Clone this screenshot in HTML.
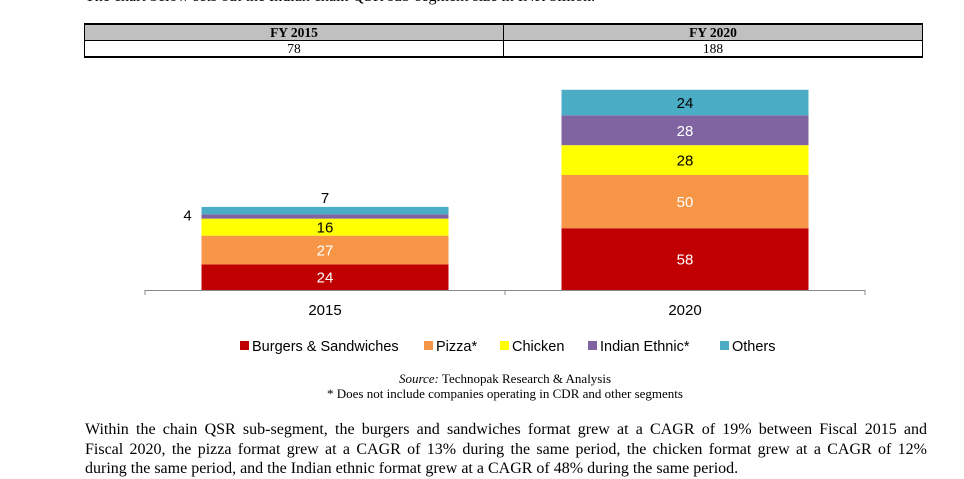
<!DOCTYPE html>
<html><head><meta charset="utf-8"><style>
body{margin:0;width:964px;height:477px;background:#fff;position:relative;overflow:hidden;font-family:"Liberation Serif",serif;}
.abs{position:absolute;}
table{border-collapse:collapse;position:absolute;left:84px;top:23px;width:839px;font-size:13.5px;}
td{border:1px solid #000;text-align:center;height:15px;padding:0;line-height:15px;}
tr.h td{background:#c0c0c0;font-weight:bold;border-top:2px solid #000;}
tr.v td{border-bottom:2px solid #000;}
.ln{display:block;text-align:justify;text-align-last:justify;white-space:nowrap;}
.ln.last{text-align-last:left;}
</style></head><body>
<div class="abs" style="left:85px;top:-12px;font-size:16px;">The chart below sets out the Indian chain QSR sub-segment size in INR billion.</div>
<table>
<tr class="h"><td style="width:50%">FY 2015</td><td>FY 2020</td></tr>
<tr class="v"><td>78</td><td>188</td></tr>
</table>
<svg class="abs" style="left:0;top:0" width="964" height="477" id="chart"></svg>
<div class="abs" style="left:0;width:1010px;top:372px;text-align:center;font-size:13px;line-height:14.5px;"><i>Source:</i> Technopak Research &amp; Analysis<br>* Does not include companies operating in CDR and other segments</div>
<div class="abs" style="left:85px;width:842px;top:420px;font-size:16px;line-height:19.5px;">
<span class="ln">Within the chain QSR sub-segment, the burgers and sandwiches format grew at a CAGR of 19% between Fiscal 2015 and</span>
<span class="ln">Fiscal 2020, the pizza format grew at a CAGR of 13% during the same period, the chicken format grew at a CAGR of 12%</span>
<span class="ln last">during the same period, and the Indian ethnic format grew at a CAGR of 48% during the same period.</span>
</div>
<script>
const categories=["2015","2020"];
const seriesNames=["Burgers & Sandwiches","Pizza*","Chicken","Indian Ethnic*","Others"];
const burgers=[24,58];
const pizza=[27,50];
const chicken=[16,28];
const indian=[4,28];
const others=[7,24];
const colors=["#c00000","#f79646","#ffff00","#8064a2","#4bacc6"];
const textColors=["#fff","#fff","#000","#fff","#000"];
const series=[burgers,pizza,chicken,indian,others];
const svg=document.getElementById('chart');
const NS="http://www.w3.org/2000/svg";
const base=290,k=1.065,plotL=145,plotR=865,barW=247;
const y=v=>base-v*k;
const band=(plotR-plotL)/categories.length;
const xc=i=>plotL+band*(i+0.5);
function mk(t,a){const e=document.createElementNS(NS,t);for(const n in a)e.setAttribute(n,a[n]);svg.appendChild(e);return e;}
let ax=mk('line',{x1:plotL,x2:plotR,y1:base+0.5,y2:base+0.5,stroke:'#888'});


for(let i=0;i<=categories.length;i++){const t=mk('line',{x1:plotL+band*i,x2:plotL+band*i,y1:base,y2:base+5,stroke:'#888'});

}
categories.forEach((c,i)=>{
 let cum=0;
 series.forEach((s,j)=>{
  const v=s[i];const y0=y(cum),y1=y(cum+v);cum+=v;
  const r=mk('rect',{x:xc(i)-barW/2,y:y1,width:barW,height:y0-y1,fill:colors[j]});
  
  
  const h=y0-y1;let tx=xc(i),ty=(y0+y1)/2+5.5,fill=textColors[j];
  if(h<12){fill='#000';if(j===4){ty=y1-4;}else{tx=xc(i)-barW/2-14;ty=y1+6;}}
  const t=mk('text',{x:tx,y:ty,'text-anchor':'middle','font-family':'Liberation Sans,sans-serif','font-size':'15',fill:fill});
  t.textContent=v;
  
  
 });
 const l=mk('text',{x:xc(i),y:base+25,'text-anchor':'middle','font-family':'Liberation Sans,sans-serif','font-size':'15',fill:'#000'});
 l.textContent=c;
 
 
});
const legX=[240,424,500,588,720];
seriesNames.forEach((n,j)=>{
 const r=mk('rect',{x:legX[j],y:341,width:9,height:9,fill:colors[j]});
 
 
 const t=mk('text',{x:legX[j]+12,y:351,'font-family':'Liberation Sans,sans-serif','font-size':'14.5',fill:'#000'});
 t.textContent=n;
 
 
});
</script>
</body></html>
